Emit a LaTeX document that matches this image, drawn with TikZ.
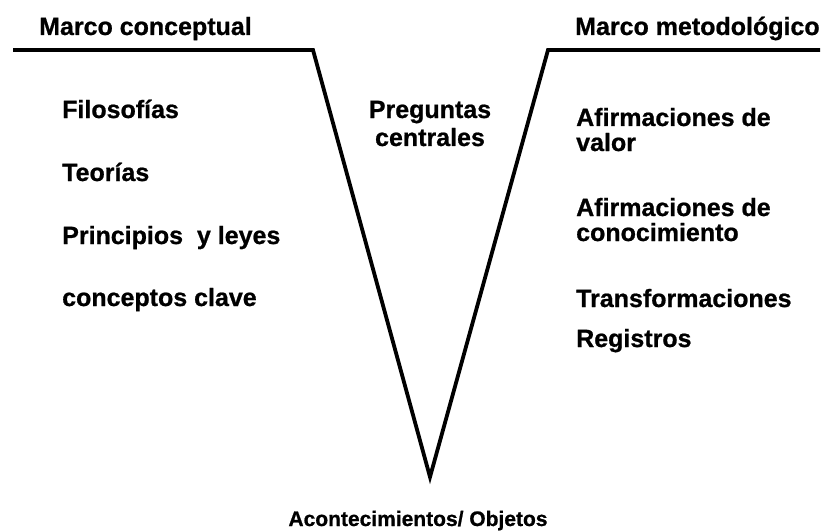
\documentclass[tikz,border=0pt]{standalone}
\usepackage{fontspec}
\setmainfont{Liberation Sans}[BoldFeatures={FakeBold=0.8}]
\begin{document}
\begin{tikzpicture}[x=1pt,y=-1pt,
  lbl/.style={font=\bfseries\fontsize{25}{30}\selectfont, inner sep=0pt, anchor=base west},
  vline/.style={line width=3.8pt, line join=miter, line cap=butt}]
\useasboundingbox (0,0) rectangle (824,532);
\coordinate (L0) at (13,50);
\coordinate (L1) at (313,50);
\coordinate (V) at (430,477);
\coordinate (R1) at (548,50);
\coordinate (R0) at (820,50);
\draw[vline] (L0) -- (L1) -- (V) -- (R1) -- (R0);
\node[lbl] (mc) at (39,35) {Marco conceptual};
\node[lbl] (mm) at (575,35) {Marco metodológico};
\node[lbl] (f) at (62,118) {Filosofías};
\node[lbl] (t) at (62,181) {Teorías};
\node[lbl] (p) at (62,244) {Principios\ \ y leyes};
\node[lbl] (c) at (62,306) {conceptos clave};
\node[lbl] (a1) at (576,126) {Afirmaciones de};
\node[lbl] (a2) at (576,151) {valor};
\node[lbl] (b1) at (576,216) {Afirmaciones de};
\node[lbl] (b2) at (576,241) {conocimiento};
\node[lbl] (tr) at (576,307) {Transformaciones};
\node[lbl] (rg) at (576,347) {Registros};
\node[lbl, anchor=base] (pg) at (430,118) {Preguntas};
\node[lbl, anchor=base] (ce) at (430,146) {centrales};
\node[font=\bfseries\fontsize{21}{25}\selectfont, inner sep=0pt, anchor=base] (ao) at (418,526) {Acontecimientos/ Objetos};
\end{tikzpicture}
\end{document}
